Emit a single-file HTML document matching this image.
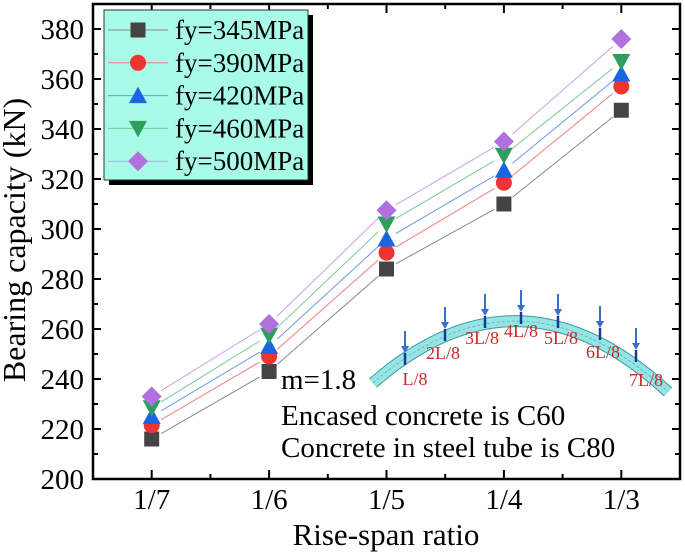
<!DOCTYPE html>
<html><head><meta charset="utf-8"><style>
body{margin:0;background:#fff}
svg text{font-family:"Liberation Serif",serif}
</style></head><body>
<svg id="c" width="685" height="555" viewBox="0 0 685 555" xmlns="http://www.w3.org/2000/svg">
<g id="inset">
 <path d="M373,383 Q520,255 668,392" fill="none" stroke="#3a9a9a" stroke-width="12"/>
 <path d="M373,383 Q520,255 668,392" fill="none" stroke="#96e4e4" stroke-width="10"/>
 <path d="M373,383 Q520,255 668,392" fill="none" stroke="#4aa8a8" stroke-width="0.6" stroke-dasharray="3 2"/>
</g>
<g id="marks"></g>
<g id="axes"></g>
</svg>
<script>
const categories=["1/7","1/6","1/5","1/4","1/3"];
const seriesNames=["fy=345MPa","fy=390MPa","fy=420MPa","fy=460MPa","fy=500MPa"];
const s345=[216,243,284,310,347.5];
const s390=[221.5,249,290.5,318.5,357];
const s420=[225,253,296,323.5,362];
const s460=[228.5,257.5,302,329.5,367];
const s500=[233,262,307.5,335,376];
const yTicks=[200,220,240,260,280,300,320,340,360,380];
const archLabels=["L/8","2L/8","3L/8","4L/8","5L/8","6L/8","7L/8"];
const NS="http://www.w3.org/2000/svg";
const L=93,R=680,T=4,B=479,yMin=200,yMax=390;
const xs=i=>L+(i+0.5)*(R-L)/categories.length;
const ys=v=>B-(v-yMin)/(yMax-yMin)*(B-T);
function mk(tag,a,p){const e=document.createElementNS(NS,tag);for(const k in a)e.setAttribute(k,a[k]);p.appendChild(e);return e;}
function txt(a,p,size,s){const e=mk('text',a,p);e.style.fontSize=size+'px';e.textContent=s;return e;}
const svg=document.getElementById('c'),marks=document.getElementById('marks'),axes=document.getElementById('axes'),inset=document.getElementById('inset');
const colors=["#444","#ee3333","#1a66e0","#2e9e5e","#b070dd"];
const lineCols=["#888","#f08080","#6a9ae8","#7ac89a","#c9a0ea"];
const all=[s345,s390,s420,s460,s500];
function marker(k,x,y,p){
 const c=colors[k];let e;
 if(k==0)e=mk('rect',{x:x-7.5,y:y-7.5,width:15,height:15,fill:c},p);
 else if(k==1)e=mk('circle',{cx:x,cy:y,r:8,fill:c},p);
 else if(k==2)e=mk('polygon',{points:`${x},${y-9} ${x+9},${y+7.5} ${x-9},${y+7.5}`,fill:c},p);
 else if(k==3)e=mk('polygon',{points:`${x},${y+9} ${x+9},${y-7.5} ${x-9},${y-7.5}`,fill:c},p);
 else e=mk('polygon',{points:`${x},${y-10} ${x+10},${y} ${x},${y+10} ${x-10},${y}`,fill:c},p);
 return e;
}
all.forEach((s,k)=>{
 const g=mk('g',{},marks);
 
 
 for(let i=0;i<s.length-1;i++){
  const x1=xs(i),y1=ys(s[i]),x2=xs(i+1),y2=ys(s[i+1]);
  const d=Math.hypot(x2-x1,y2-y1),g0=11/d;
  const ln=mk('line',{x1:x1+(x2-x1)*g0,y1:y1+(y2-y1)*g0,x2:x2-(x2-x1)*g0,y2:y2-(y2-y1)*g0,stroke:lineCols[k],'stroke-width':1},g);
  
  
 }
 s.forEach((v,i)=>{const m=marker(k,xs(i),ys(v),g);
  
  });
});
const archPts=[[405,359],[445,335],[485,322],[521,318],[558,322],[600,334],[636,356]];
const lblDx=[10,-2,-3,0,3,3,10];
const lblDy=[26,24,22,19,22,24,30];
archLabels.forEach((t,i)=>{
 const [x,y]=archPts[i];
 mk('line',{x1:x,y1:y-6,x2:x,y2:y+6,stroke:'#1a3a90','stroke-width':2.5},inset);
 const a=mk('g',{},inset);
 
 
 mk('line',{x1:x,y1:y-28,x2:x,y2:y-11,stroke:'#3a6fc8','stroke-width':2},a);
 mk('polygon',{points:`${x-4},${y-13} ${x+4},${y-13} ${x},${y-6}`,fill:'#3a6fc8'},a);
 const tx=txt({x:x+lblDx[i],y:y+lblDy[i],fill:'#c8282a','text-anchor':'middle'},inset,18,t);
 
 
});
const fr=mk('rect',{x:L,y:T,width:R-L,height:B-T,fill:'none',stroke:'#000','stroke-width':2.5},axes);


yTicks.forEach(v=>{
 const y=ys(v);
 mk('line',{x1:L,y1:y,x2:L+8,y2:y,stroke:'#000','stroke-width':2},axes);
 mk('line',{x1:R,y1:y,x2:R-8,y2:y,stroke:'#000','stroke-width':2},axes);
 mk('line',{x1:L,y1:ys(v+10),x2:L+5,y2:ys(v+10),stroke:'#000','stroke-width':2},axes);
 mk('line',{x1:R,y1:ys(v+10),x2:R-5,y2:ys(v+10),stroke:'#000','stroke-width':2},axes);
 const t=txt({x:L-9,y:y+10,'text-anchor':'end'},axes,29,v);
 
 
});
categories.forEach((c,i)=>{
 const x=xs(i);
 mk('line',{x1:x,y1:B,x2:x,y2:B-9,stroke:'#000','stroke-width':2},axes);
 mk('line',{x1:x,y1:T,x2:x,y2:T+9,stroke:'#000','stroke-width':2},axes);
 if(i<categories.length-1){const xm=(x+xs(i+1))/2;
  mk('line',{x1:xm,y1:B,x2:xm,y2:B-5,stroke:'#000','stroke-width':2},axes);
  mk('line',{x1:xm,y1:T,x2:xm,y2:T+5,stroke:'#000','stroke-width':2},axes);}
 const t=txt({x:x,y:B+30,'text-anchor':'middle'},axes,29,c);
 
 
});
let t=txt({x:386,y:545,'text-anchor':'middle'},axes,31,"Rise-span ratio");


t=txt({x:0,y:0,'text-anchor':'middle',transform:'translate(25,240) rotate(-90)'},axes,32,"Bearing capacity (kN)");


[["m=1.8",281,389],["Encased concrete is C60",281,425],["Concrete in steel tube is C80",281,457]].forEach(([s,x,y])=>{
 const e=txt({x:x,y:y},axes,29,s);
 
 
});
const lg=mk('g',{},axes);


mk('rect',{x:109,y:15,width:204,height:170,fill:'#000'},lg);
mk('rect',{x:104,y:10,width:204,height:170,fill:'#a8fbe6',stroke:'#333','stroke-width':1},lg);
seriesNames.forEach((n,k)=>{
 const y=30+k*32.8;
 const en=mk('g',{},lg);
 
 
 mk('line',{x1:108,y1:y,x2:168,y2:y,stroke:lineCols[k],'stroke-width':1},en);
 marker(k,138,y,en);
 txt({x:175,y:y+9},en,27,n);
});
</script>
</body></html>
